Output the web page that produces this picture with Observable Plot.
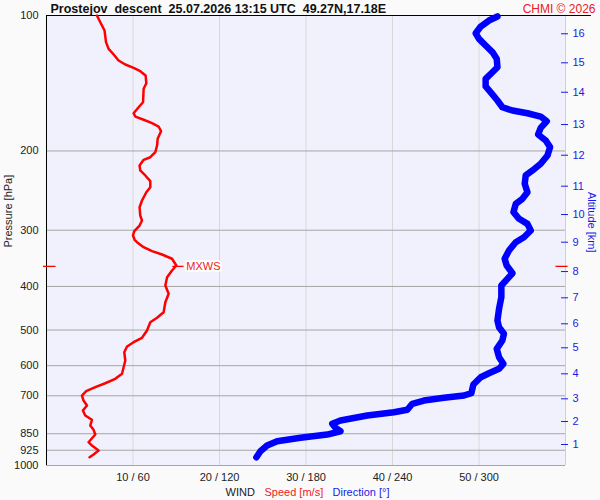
<!DOCTYPE html>
<html><head><meta charset="utf-8">
<script src="https://cdn.jsdelivr.net/npm/d3@7"></script>
<script src="https://cdn.jsdelivr.net/npm/@observablehq/plot@0.6"></script>
<style>body{margin:0;background:#fafafa;}</style>
</head><body><div id="chart"></div>
<script>
// Wind speed profile (m/s) vs pressure (hPa)
const speedP = [100,103.5,108.0,114.6,118.6,121.6,125.9,128.5,130.7,133.0,136.0,141.4,145.5,155.9,159.9,164.9,167.7,170.5,173.5,176.5,180.7,187.9,194.5,201.3,206.5,209.3,215.4,221.0,226.7,233.4,240.7,247.0,257.7,266.7,278.3,285.5,292.9,301.5,308.2,315.1,319.0,327.3,334.0,339.7,347.2,359.4,368.8,381.6,398.1,415.4,433.6,456.4,469.7,480.4,501.2,520.3,532.1,544.0,560.1,584.4,625.5,641.8,656.5,669.9,683.8,699.0,717.1,735.6,754.7,774.3,791.5,815.1,833.3,853.5,887.7,902.9,926.3,945.4,958.6];
const speed = [5.83,6.22,6.71,6.88,7.18,7.69,8.33,9.11,10.07,10.84,11.46,11.54,11.23,11.16,10.65,10.07,10.27,11.23,12.2,12.96,13.24,12.85,12.78,12.58,12.0,11.23,10.76,10.84,11.42,12.0,12.0,11.54,11.04,10.76,10.84,11.04,10.76,10.15,10.0,10.19,10.46,11.23,12.2,13.36,14.51,15.01,14.51,13.94,13.74,14.12,13.74,13.54,12.78,12.0,11.62,11.04,10.07,9.31,8.99,9.11,8.73,7.95,6.79,5.64,4.59,4.1,4.28,4.68,4.21,4.48,5.25,5.06,5.44,5.64,4.86,5.25,6.02,5.44,4.98];
// Wind direction profile (deg) vs pressure (hPa)
const dirP = [100.5,102.6,105.8,109.5,112.7,116.6,120.6,124.8,130.3,133.7,138.3,143.8,148.8,154.5,159.9,162.6,164.9,167.7,171.8,177.7,183.8,189.6,196.1,204.7,213.6,221.0,226.7,236.6,247.0,255.5,262.1,273.6,283.0,290.4,300.5,311.0,319.0,332.8,347.2,359.4,373.9,384.8,398.1,422.7,448.6,476.1,492.8,509.7,527.5,550.5,574.5,594.3,609.7,623.6,636.5,660.7,690.8,699.0,707.4,717.1,729.3,751.9,761.3,774.3,794.3,807.8,824.7,839.3,853.5,868.0,883.2,902.9,929.5,958.6];
const direction = [312.8,306.9,301.2,297.7,300.0,304.6,309.3,312.3,312.8,309.3,304.6,304.6,308.6,312.8,316.2,323.2,333.6,342.8,347.0,342.8,341.0,346.3,349.3,347.5,342.8,337.1,332.4,331.7,333.6,330.1,325.5,323.9,327.8,333.6,335.9,331.2,325.5,320.8,317.8,319.2,323.2,319.7,315.5,315.5,313.9,312.8,313.9,317.3,316.2,312.3,313.9,316.9,313.9,306.9,301.2,296.1,294.7,289.6,275.7,261.8,253.7,250.3,241.0,222.5,203.9,198.2,200.5,203.9,194.7,176.2,160.0,153.0,148.4,145.6];
// Axes
const pressureTicks = [100,200,300,400,500,600,700,850,925,1000];
const pressureGrid = [200,300,400,500,600,700,850,925,1000];
const speedTicks = [10,20,30,40,50];
const altKm = [1,2,3,4,5,6,7,8,9,10,11,12,13,14,15,16];
const altP = [898.1,798.4,710.9,625.5,547.6,484.3,424.0,370.7,319.0,276.9,239.5,204.4,174.7,148.1,127.4,109.8];
// Max wind
const mxws = [{s:15.0, p:361}];
const title = "Prostejov\u00a0\u00a0descent\u00a0\u00a025.07.2026 13:15 UTC\u00a0\u00a049.27N,17.18E";

const altMap = new Map(altP.map((p,i)=>[p, altKm[i]]));
const speedData = speedP.map((p,i)=>({p, s:speed[i]}));
const dirData = dirP.map((p,i)=>({p, d:direction[i]}));

const RED = "#ff0000", BLUE = "#0000ff", TXT = "#222";
const font = "Arial, 'Liberation Sans', sans-serif";

const chart = Plot.plot({
  width:600, height:500, marginTop:15, marginRight:35, marginBottom:35, marginLeft:46,
  style:{background:"#fafafa", fontFamily:font, fontSize:"11px", color:TXT},
  x:{domain:[0,60]},
  y:{type:"log", domain:[100,1000], reverse:true},
  marks:[
    Plot.frame({fill:"#f1f1fe", stroke:null}),
    Plot.ruleX(speedTicks, {stroke:"#d8d8d8"}),
    Plot.ruleX([60], {stroke:"#cfcfcf"}),
    Plot.ruleY(pressureGrid, {stroke:"#a6a6a6"}),
    Plot.ruleY([100], {x1:0, x2:63, stroke:"black"}),
    Plot.ruleX([0], {stroke:"black"}),
    Plot.axisY({ticks:pressureTicks, tickSize:0, tickPadding:8, tickFormat:d=>String(d), label:null, fontSize:11}),
    Plot.axisX({ticks:speedTicks, tickSize:0, tickPadding:8, tickFormat:d=>`${d} / ${d*6}`, label:null, fontSize:11}),
    Plot.axisY(altP, {anchor:"right", tickSize:7, tickPadding:5, dx:-5, tickFormat:d=>altMap.get(d), label:null, color:"#1a1ae6", fontSize:11}),
    Plot.line(dirData, {x:d=>d.d/6, y:"p", stroke:BLUE, strokeWidth:6.5, strokeLinecap:"round", strokeLinejoin:"round"}),
    Plot.line(speedData, {x:"s", y:"p", stroke:RED, strokeWidth:2.5, strokeLinejoin:"round"}),
    Plot.ruleY(mxws, {y:"p", x1:d=>d.s-0.4, x2:d=>d.s+0.9, stroke:RED, strokeWidth:1.3}),
    Plot.ruleY(mxws, {y:"p", x1:-0.35, x2:1.1, stroke:RED, strokeWidth:1.3}),
    Plot.ruleY(mxws, {y:"p", x1:58.9, x2:60.3, stroke:RED, strokeWidth:1.3}),
    Plot.text(mxws, {x:"s", y:"p", text:()=>"MXWS", dx:10, textAnchor:"start", fill:"#ee2222", stroke:"white", strokeWidth:4, fontSize:11}),
    Plot.text([title], {text:d=>d, frameAnchor:"top-left", dx:4, dy:-3, lineAnchor:"bottom", textAnchor:"start", fontWeight:"bold", fontSize:12.5, fill:"#111"}),
    Plot.text(["CHMI © 2026"], {text:d=>d, frameAnchor:"top-right", dx:30, dy:-3, lineAnchor:"bottom", textAnchor:"end", fill:"#e8202a", fontSize:12}),
    Plot.text(["Pressure [hPa]"], {text:d=>d, frameAnchor:"left", dx:-38, dy:7, rotate:-90, fill:TXT, fontSize:11}),
    Plot.text(["Altitude [km]"], {text:d=>d, frameAnchor:"right", dx:26, dy:12, rotate:90, fill:"#1a1ae6", fontSize:11}),
    Plot.text(["WIND"], {text:d=>d, frameAnchor:"bottom", dx:-80.5, dy:30, lineAnchor:"bottom", textAnchor:"start", fill:TXT, fontSize:11}),
    Plot.text(["Speed [m/s]"], {text:d=>d, frameAnchor:"bottom", dx:-41.5, dy:30, lineAnchor:"bottom", textAnchor:"start", fill:"#ee1c1c", fontSize:11}),
    Plot.text(["Direction [°]"], {text:d=>d, frameAnchor:"bottom", dx:26.5, dy:30, lineAnchor:"bottom", textAnchor:"start", fill:"#1a1ae6", fontSize:11})
  ]
});
document.getElementById("chart").appendChild(chart);
</script>
</body></html>
